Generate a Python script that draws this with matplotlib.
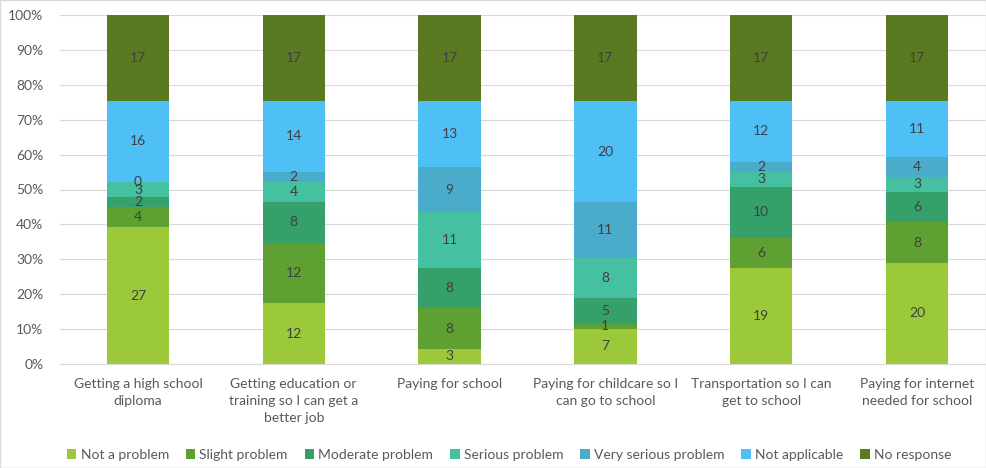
import matplotlib
matplotlib.use("Agg")
import matplotlib.pyplot as plt
import numpy as np

categories = ["Getting a high school\ndiploma",
              "Getting education or\ntraining so I can get a\nbetter job",
              "Paying for school",
              "Paying for childcare so I\ncan go to school",
              "Transportation so I can\nget to school",
              "Paying for internet\nneeded for school"]
series = ["Not a problem", "Slight problem", "Moderate problem", "Serious problem",
          "Very serious problem", "Not applicable", "No response"]
not_a_problem = [27, 12, 3, 7, 19, 20]
slight = [4, 12, 8, 1, 6, 8]
moderate = [2, 8, 8, 5, 10, 6]
serious = [3, 4, 11, 8, 3, 3]
very_serious = [0, 2, 9, 11, 2, 4]
not_applicable = [16, 14, 13, 20, 12, 11]
no_response = [17, 17, 17, 17, 17, 17]
colors = ["#9BC93A", "#5FA033", "#35A06A", "#45C0A0", "#4AABCB", "#4FC0F5", "#5A7A22"]

plt.rcParams['font.family'] = ['Lato', 'DejaVu Sans']
data = np.array([not_a_problem, slight, moderate, serious, very_serious,
                 not_applicable, no_response], dtype=float)
totals = data.sum(axis=0)
pct = data / totals * 100

fig = plt.figure(figsize=(9.86, 4.68), dpi=100)
# plot area runs past the right edge of the picture, as in the reference
ax = fig.add_axes([60/986, 1 - 364/468, 935/986, 349/468])
x = np.arange(len(categories))
bottom = np.zeros(len(categories))
for i in range(len(series)):
    ax.bar(x, pct[i], 0.4, bottom=bottom, color=colors[i], label=series[i], zorder=2)
    for j in range(len(categories)):
        ax.text(x[j], bottom[j] + pct[i][j] / 2, "%d" % data[i][j], ha='center', va='center',
                fontsize=10, color='#404040', zorder=3)
    bottom += pct[i]

ax.set_xlim(-0.5, 5.5)
ax.set_ylim(0, 100)
ax.set_yticks(np.arange(0, 101, 10))
ax.set_yticklabels(["%d%%" % v for v in range(0, 101, 10)])
ax.set_xticks(x)
ax.set_xticklabels(categories, va='top', linespacing=1.5)
ax.tick_params(length=0, colors='#595959', labelsize=10)
ax.tick_params(axis='x', pad=10)
ax.tick_params(axis='y', pad=12)
ax.grid(axis='y', color='#D9D9D9', linewidth=0.8, zorder=0)
for s in ax.spines.values():
    s.set_visible(False)
ax.spines['bottom'].set_visible(True)
ax.spines['bottom'].set_color('#D9D9D9')

fig.legend(loc='center', bbox_to_anchor=(509/986, 1 - 455/468), ncol=7, frameon=False,
           fontsize=10, handlelength=0.7, handleheight=0.7, handletextpad=0.3,
           columnspacing=1.2, labelcolor='#595959')
fig.patches.append(plt.Rectangle((0, 0), 1, 1, transform=fig.transFigure, fill=False,
                                 edgecolor='#D9D9D9', linewidth=1))
fig.savefig("out.png", dpi=100)
